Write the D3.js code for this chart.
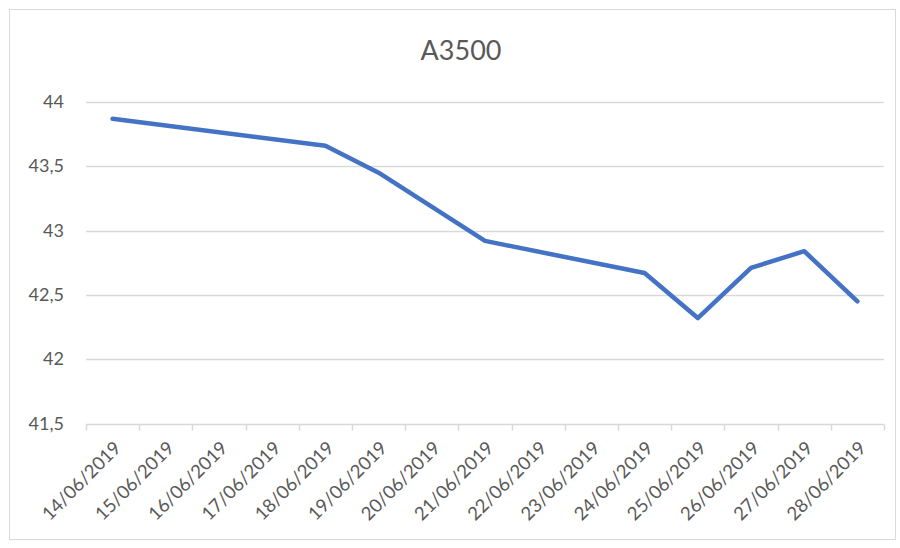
<!DOCTYPE html>
<html>
<head>
<meta charset="utf-8">
<script src="https://cdn.jsdelivr.net/npm/d3@7"></script>
<style>
  body { margin: 0; background: #fff; }
  text { font-family: Lato, "Open Sans", sans-serif; fill: #595959; }
</style>
</head>
<body>
<div id="svgContainer"></div>
<script>
// every calendar day on the axis, only business days have a value
const dates = ["14/06/2019", "15/06/2019", "16/06/2019", "17/06/2019", "18/06/2019",
    "19/06/2019", "20/06/2019", "21/06/2019", "22/06/2019", "23/06/2019",
    "24/06/2019", "25/06/2019", "26/06/2019", "27/06/2019", "28/06/2019"];
const quoteDates = ["14/06/2019", "18/06/2019", "19/06/2019", "21/06/2019", "24/06/2019",
    "25/06/2019", "26/06/2019", "27/06/2019", "28/06/2019"];
const quoteValues = [43.87, 43.66, 43.45, 42.92, 42.67, 42.32, 42.71, 42.84, 42.45];
const yTicks = [41.5, 42, 42.5, 43, 43.5, 44];

const w = 900;
const h = 548;
const padding = {
    "top": 102,
    "right": 16,
    "bottom": 124.5,
    "left": 86
}

const svg = d3.select("#svgContainer").append("svg")
    .attr("width", w)
    .attr("height", h)

// outer chart border
svg.append("rect")
    .attr("x", 9.5).attr("y", 9.5)
    .attr("width", 886).attr("height", 530)
    .attr("fill", "#fff")
    .attr("stroke", "#d9d9d9")

const xScale = d3.scaleBand()
    .domain(dates)
    .range([padding.left, w - padding.right]);

const yScale = d3.scaleLinear()
    .domain([41.5, 44])
    .range([h - padding.bottom, padding.top]);

// gridlines
svg.append("g")
    .selectAll("line")
    .data(yTicks.slice(1))
    .enter()
    .append("line")
    .attr("x1", padding.left)
    .attr("x2", w - padding.right)
    .attr("y1", (d) => Math.round(yScale(d)) + 0.5)
    .attr("y2", (d) => Math.round(yScale(d)) + 0.5)
    .style("stroke", "#d9d9d9")
    .style("stroke-width", 1.5)

// y labels
svg.append("g")
    .selectAll("text")
    .data(yTicks)
    .enter()
    .append("text")
    .attr("x", 64)
    .attr("y", (d) => yScale(d) + 6)
    .attr("text-anchor", "end")
    .style("font-size", "18px")
    .text((d) => d3.format(".1~f")(d).replace(".", ","))

// x axis line + tick marks at band boundaries
const axisY = Math.round(yScale(41.5)) + 0.5;
svg.append("line")
    .attr("x1", padding.left).attr("x2", w - padding.right)
    .attr("y1", axisY).attr("y2", axisY)
    .style("stroke", "#d9d9d9").style("stroke-width", 1.5)

const bounds = dates.map((d) => xScale(d)).concat([xScale.range()[1]]);
svg.append("g")
    .selectAll("line")
    .data(bounds)
    .enter()
    .append("line")
    .attr("x1", (d) => Math.round(d) + 0.5)
    .attr("x2", (d) => Math.round(d) + 0.5)
    .attr("y1", axisY)
    .attr("y2", axisY + 6)
    .style("stroke", "#d9d9d9").style("stroke-width", 1.5)

// x labels, rotated
svg.append("g")
    .selectAll("text")
    .data(dates)
    .enter()
    .append("text")
    .attr("transform", (d) => "translate(" + (xScale(d) + xScale.bandwidth() / 2 + 5) + "," + (axisY + 20) + ") rotate(-45)")
    .attr("text-anchor", "end")
    .attr("dy", "0.35em")
    .style("font-size", "18.5px")
    .text((d) => d)

// the series
const line = d3.line()
    .x((d) => xScale(d[0]) + xScale.bandwidth() / 2)
    .y((d) => yScale(d[1]));

svg.append("path")
    .datum(d3.zip(quoteDates, quoteValues))
    .attr("d", line)
    .attr("fill", "none")
    .style("stroke", "#4472c4")
    .style("stroke-width", 4.5)
    .style("stroke-linejoin", "round")
    .style("stroke-linecap", "round")

// title
svg.append("text")
    .attr("x", 461)
    .attr("y", 60)
    .attr("text-anchor", "middle")
    .style("font-size", "27px")
    .text("A3500")
</script>
</body>
</html>
